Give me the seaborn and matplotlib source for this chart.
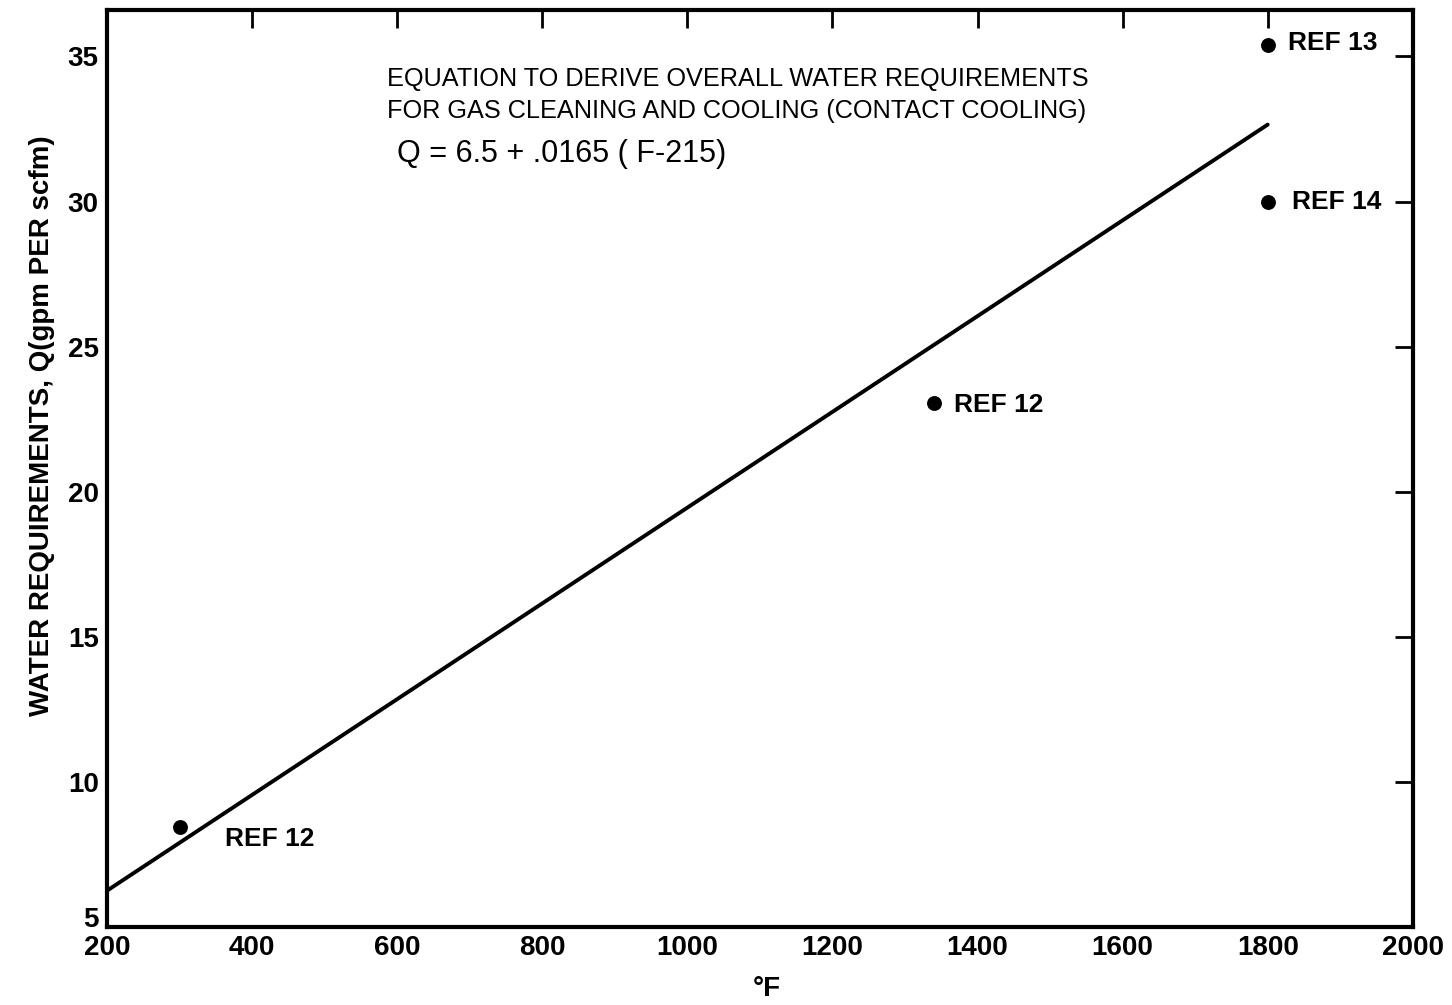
import matplotlib
matplotlib.use("Agg")
import matplotlib.pyplot as plt
import matplotlib.transforms as mtransforms
import seaborn as sns
import pandas as pd

# Reference data points (temperature °F, water requirement gpm per scfm)
ref_temp = [300, 1340, 1800, 1800]
ref_q = [8.45, 23.05, 35.4, 30.0]
ref_labels = ["REF 12", "REF 12", "REF 13", "REF 14"]
label_temp = [363, 1367, 1828, 1833]
label_q = [8.05, 23.0, 35.45, 29.97]

# Fitted equation Q = 6.5 + .0165 (F - 215)
q_intercept = 6.5
q_slope = 0.0165
q_offset = 215
line_temp = [200, 1800]
line_q = [q_intercept + q_slope * (t - q_offset) for t in line_temp]

x_ticks = [200, 400, 600, 800, 1000, 1200, 1400, 1600, 1800, 2000]
y_ticks = [5, 10, 15, 20, 25, 30, 35]

sns.set_style("white")
plt.rcParams["font.family"] = ["Liberation Sans Narrow", "Liberation Sans",
                               "DejaVu Sans"]
plt.rcParams["text.color"] = "black"
plt.rcParams["axes.labelcolor"] = "black"
plt.rcParams["xtick.color"] = "black"
plt.rcParams["ytick.color"] = "black"

fig = plt.figure(figsize=(14.52, 10.05), dpi=100)
ax = fig.add_axes([0.0737, 0.0776, 0.8993, 0.9124])

line_df = pd.DataFrame({"F": line_temp, "Q": line_q})
pts_df = pd.DataFrame({"F": ref_temp, "Q": ref_q})

sns.lineplot(data=line_df, x="F", y="Q", ax=ax, color="black", linewidth=2.8)
sns.scatterplot(data=pts_df, x="F", y="Q", ax=ax, color="black", s=115,
                edgecolor="black", linewidth=0, zorder=3)

for t, q, lab in zip(label_temp, label_q, ref_labels):
    ax.text(t, q, lab, fontsize=19, fontweight="bold", ha="left", va="center")

ax.text(586, 34.65,
        "EQUATION TO DERIVE OVERALL WATER REQUIREMENTS\n"
        "FOR GAS CLEANING AND COOLING (CONTACT COOLING)",
        fontsize=18.2, ha="left", va="top", linespacing=1.45)
ax.text(600, 32.15, "Q = 6.5 + .0165 ( F-215)", fontsize=22, ha="left", va="top")

ax.set_xlim(200, 2000)
ax.set_ylim(5, 36.6)
ax.set_xticks(x_ticks)
ax.set_yticks(y_ticks)
ax.tick_params(axis="both", which="both", direction="in", length=13, width=2,
               top=True, right=True, labelsize=20, pad=6, color="black")
for lbl in ax.get_xticklabels() + ax.get_yticklabels():
    lbl.set_fontweight("bold")

# lift the lowest y label clear of the x tick labels at the corner
corner = ax.get_yticklabels()[0]
corner.set_transform(corner.get_transform() +
                     mtransforms.ScaledTranslation(0, 0.1, fig.dpi_scale_trans))

for side in ["left", "right", "top", "bottom"]:
    ax.spines[side].set_visible(True)
    ax.spines[side].set_color("black")
    ax.spines[side].set_linewidth(3)

ax.set_xlabel("°F", fontsize=20, fontweight="bold")
ax.xaxis.set_label_coords(0.505, -0.053)
ax.set_ylabel("WATER REQUIREMENTS, Q(gpm PER scfm)", fontsize=20,
              fontweight="bold")
ax.yaxis.set_label_coords(-0.04, 0.547)

fig.savefig("out.png", dpi=100, facecolor="white")
